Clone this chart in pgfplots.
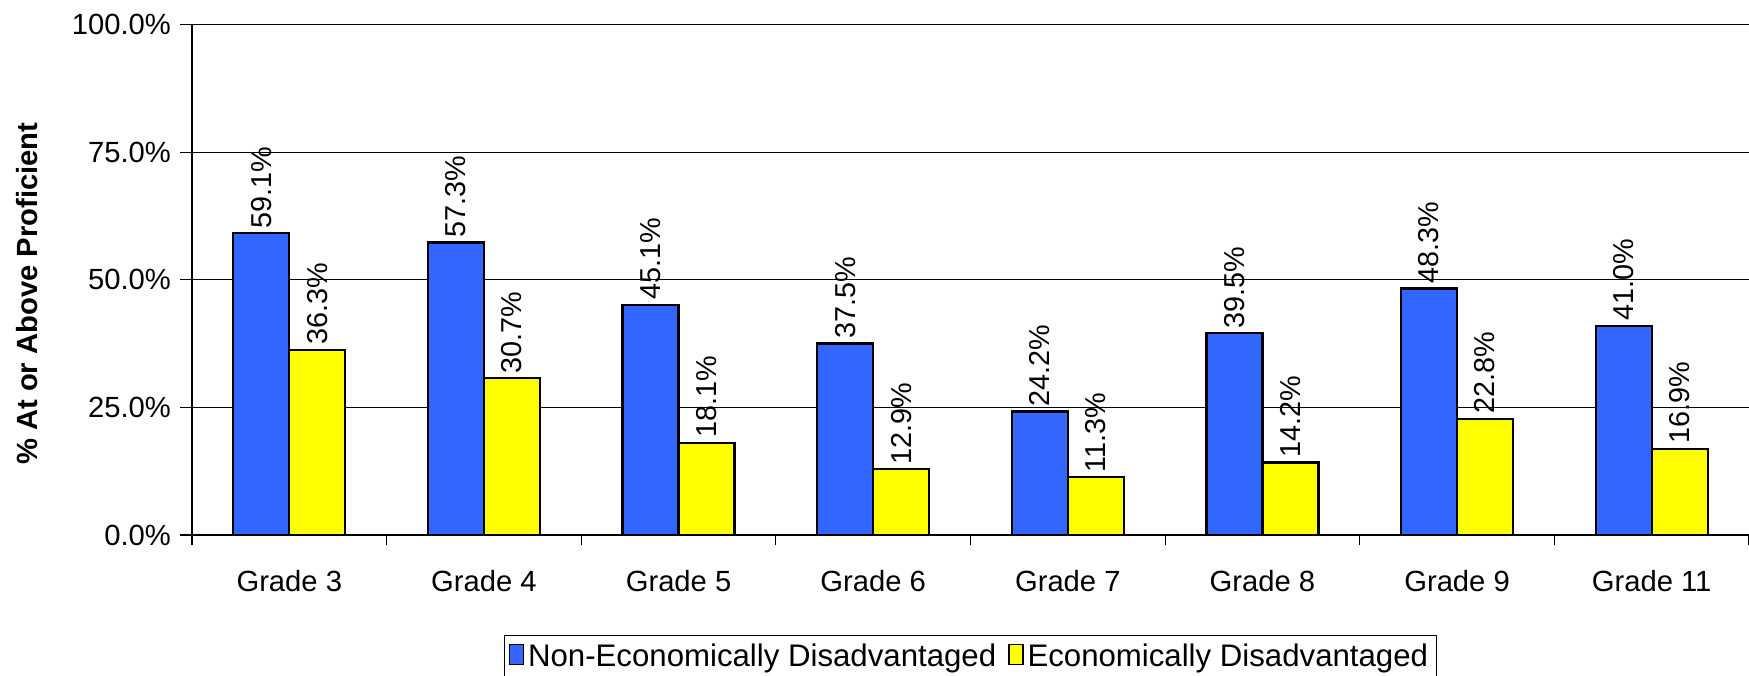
\documentclass[border=0pt]{standalone}
\usepackage{pgfplots}
\pgfplotsset{compat=1.18}
\usepackage{fontspec}
\setmainfont{Liberation Sans}
\definecolor{nblue}{HTML}{3366FF}
\definecolor{eyellow}{HTML}{FFFF00}
\begin{document}
\begin{tikzpicture}
\pgfresetboundingbox
\path[use as bounding box] (-96pt,-70pt) rectangle (778.5pt,267.5pt);
\begin{axis}[
  at={(0,0)}, anchor=south west,
  scale only axis,
  width=778.5pt, height=255.25pt,
  ybar=0pt, bar width=28pt,
  xmin=-0.5, xmax=7.5,
  ymin=0, ymax=100,
  axis x line*=bottom, axis y line*=left,
  axis line style={black, line width=0.8pt},
  xtick={0,...,7},
  xticklabels={Grade 3,Grade 4,Grade 5,Grade 6,Grade 7,Grade 8,Grade 9,Grade 11},
  x tick style={draw=none},
  extra x ticks={-0.5,0.5,1.5,2.5,3.5,4.5,5.5,6.5,7.5},
  extra x tick labels={},
  extra x tick style={x tick style={draw=black, line width=0.6pt}, tick align=outside, major tick length=5pt, grid=none},
  ytick={0,25,50,75,100},
  yticklabel={\pgfmathprintnumber[fixed,fixed zerofill,precision=1]{\tick}\%},
  /pgf/number format/assume math mode=true,
  y tick style={black, line width=0.6pt},
  tick align=outside, major tick length=6pt,
  ymajorgrids, grid style={black, line width=0.6pt},
  ticklabel style={font=\fontsize{14.6}{16}\selectfont},
  xticklabel style={yshift=-8pt},
  yticklabel style={xshift=-1pt},
  ylabel={\textbf{\% At or Above Proficient}},
  ylabel style={font=\fontsize{14.6}{16}\selectfont, yshift=10pt, xshift=-7pt},
  nodes near coords={\pgfmathprintnumber[fixed,fixed zerofill,precision=1]{\pgfplotspointmeta}\%},
  every node near coord/.append style={rotate=90, anchor=west, font=\fontsize{14.4}{16}\selectfont, inner sep=2pt},
  legend style={at={(0.5,-0.196)}, anchor=north, legend columns=2, draw=black, line width=0.6pt,
    font=\fontsize{15.6}{17}\selectfont, inner sep=2pt,
    /tikz/every even column/.append style={column sep=4pt}},
  legend image code/.code={\draw[#1, line width=0.6pt] (0pt,-4pt) rectangle (7pt,6pt);},
  clip=false,
]
\addplot[fill=nblue, draw=black, line width=1.1pt] coordinates {(0,59.1) (1,57.3) (2,45.1) (3,37.5) (4,24.2) (5,39.5) (6,48.3) (7,41.0)};
\addplot[fill=eyellow, draw=black, line width=1.1pt] coordinates {(0,36.3) (1,30.7) (2,18.1) (3,12.9) (4,11.3) (5,14.2) (6,22.8) (7,16.9)};
\legend{Non-Economically Disadvantaged,Economically Disadvantaged}
\end{axis}
\end{tikzpicture}
\end{document}
